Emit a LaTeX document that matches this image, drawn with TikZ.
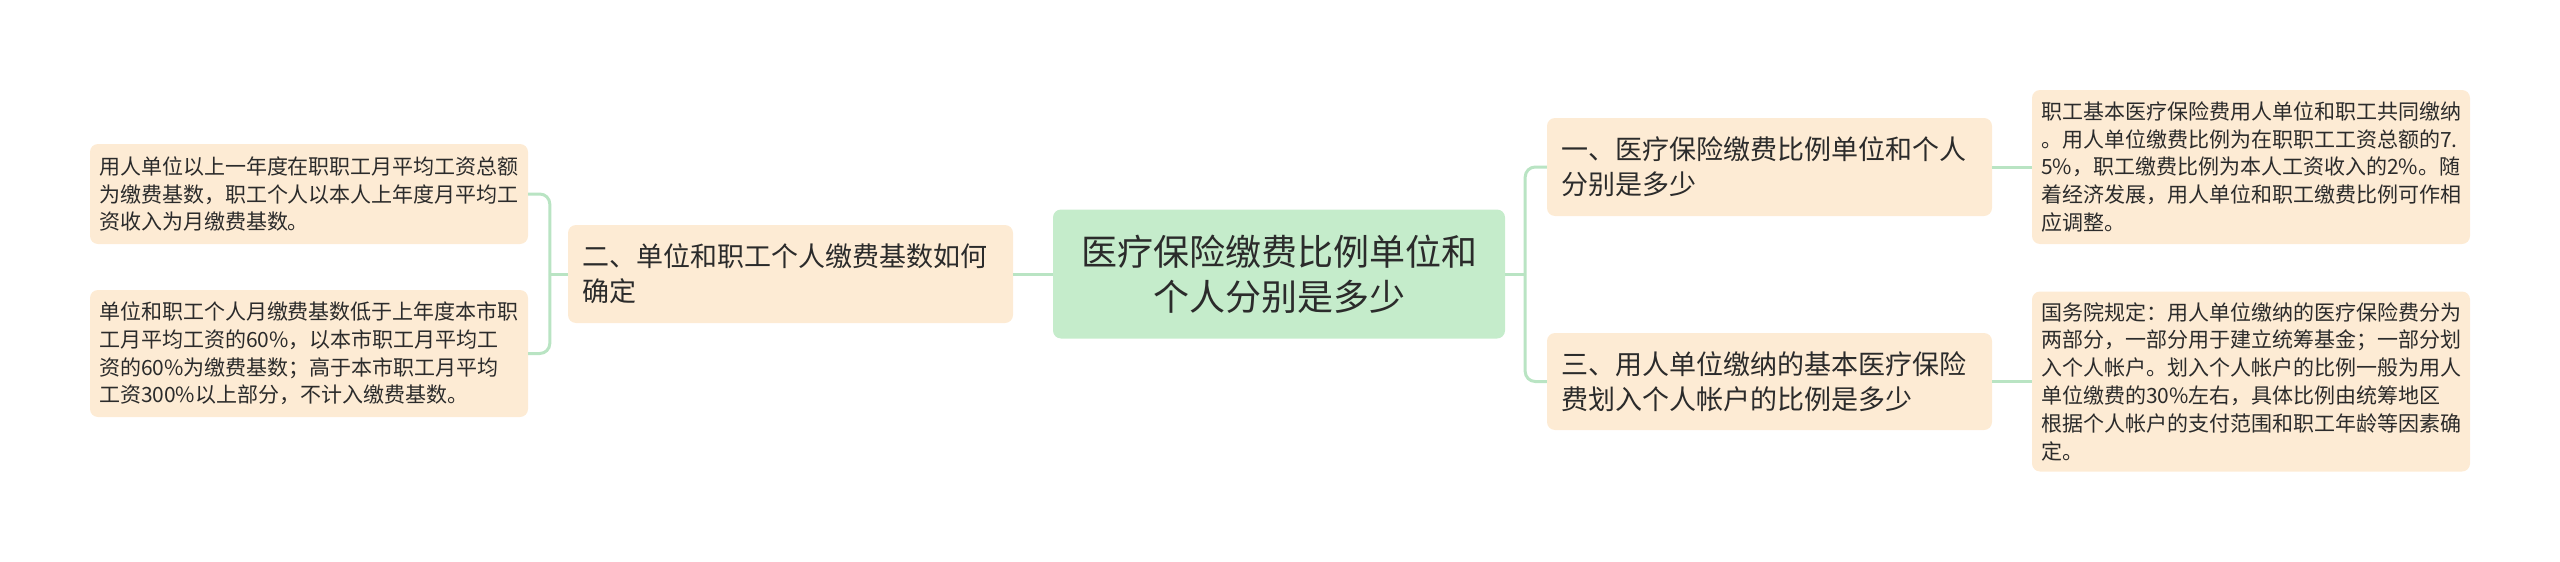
\documentclass[tikz,border=0pt]{standalone}
\usepackage{fontspec}
\newfontfamily\cjk{Noto Sans CJK SC}
\usetikzlibrary{positioning}
\definecolor{rootfill}{HTML}{C5ECCB}
\definecolor{leaffill}{HTML}{FDEBD4}
\definecolor{linkcol}{HTML}{B9E4C3}
\definecolor{txt}{HTML}{2B2B2B}

\begin{document}
\begin{tikzpicture}[x=1pt,y=-1pt,
  rootbox/.style={fill=rootfill,rounded corners=8pt,text=txt,align=center,
    text width=420pt,inner xsep=16pt,inner ysep=4pt,minimum height=129pt,
    font=\cjk\fontsize{36}{45}\selectfont},
  branch/.style={fill=leaffill,rounded corners=8pt,text=txt,align=left,
    text width=417pt,inner xsep=14pt,inner ysep=4pt,minimum height=98pt,
    font=\cjk\fontsize{27}{35}\selectfont},
  leaf/.style={fill=leaffill,rounded corners=8pt,text=txt,align=left,
    text width=420pt,inner xsep=9pt,inner ysep=4pt,
    font=\cjk\fontsize{21}{27.8}\selectfont},
  link/.style={draw=linkcol,line width=3pt,rounded corners=10pt}]

\useasboundingbox (0,0) rectangle (2560,562);

% centre
\node[rootbox] (root) at (1279,274) {医疗保险缴费比例单位和\\个人分别是多少};

% left side
\node[branch] (b2) at (790.5,274) {二、单位和职工个人缴费基数如何\\确定};
\node[leaf,minimum height=100pt] (l1) at (309,194) {用人单位以上一年度在职职工月平均工资总额\\为缴费基数，职工个人以本人上年度月平均工\\资收入为月缴费基数。};
\node[leaf,minimum height=127pt] (l2) at (309,353.5) {单位和职工个人月缴费基数低于上年度本市职\\工月平均工资的60\%，以本市职工月平均工\\资的60\%为缴费基数；高于本市职工月平均\\工资300\%以上部分，不计入缴费基数。};

% right side
\node[branch] (b1) at (1769.5,167) {一、医疗保险缴费比例单位和个人\\分别是多少};
\node[branch,minimum height=97pt] (b3) at (1769.5,381.5) {三、用人单位缴纳的基本医疗保险\\费划入个人帐户的比例是多少};
\node[leaf,minimum height=154pt] (r1) at (2251,167) {职工基本医疗保险费用人单位和职工共同缴纳\\。用人单位缴费比例为在职职工工资总额的7.\\5\%，职工缴费比例为本人工资收入的2\%。随\\着经济发展，用人单位和职工缴费比例可作相\\应调整。};
\node[leaf,minimum height=180pt] (r3) at (2251,381.5) {国务院规定：用人单位缴纳的医疗保险费分为\\两部分，一部分用于建立统筹基金；一部分划\\入个人帐户。划入个人帐户的比例一般为用人\\单位缴费的30\%左右，具体比例由统筹地区\\根据个人帐户的支付范围和职工年龄等因素确\\定。};

% connectors
\coordinate[left=18pt of b2.west] (jl);
\coordinate[right=20pt of root.east] (jr);

\draw[link] (root.west) -- (b2.east);
\draw[link] (b2.west) -- (jl);
\draw[link] (l1.east) -| (jl);
\draw[link] (l2.east) -| (jl);

\draw[link] (root.east) -- (jr);
\draw[link] (b1.west) -| (jr);
\draw[link] (b3.west) -| (jr);
\draw[link] (b1.east) -- (r1.west);
\draw[link] (b3.east) -- (r3.west);

\end{tikzpicture}
\end{document}
